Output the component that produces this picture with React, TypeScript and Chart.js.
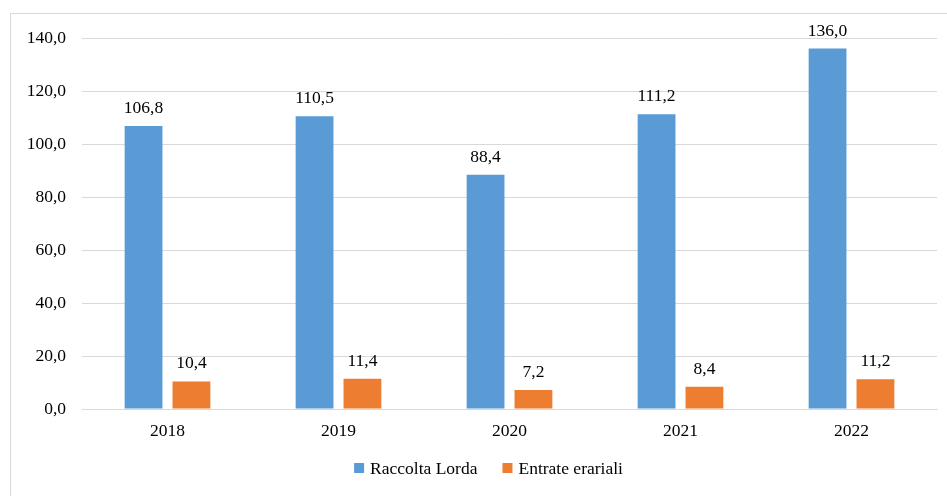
import React, { useEffect, useRef } from "react";
import { Chart, registerables } from "chart.js";

Chart.register(...registerables);

const categories = ["2018", "2019", "2020", "2021", "2022"];
const raccoltaLorda = [106.8, 110.5, 88.4, 111.2, 136.0];
const entrateErariali = [10.4, 11.4, 7.2, 8.4, 11.2];
const seriesNames = ["Raccolta Lorda", "Entrate erariali"];
const yTicks = [0, 20, 40, 60, 80, 100, 120, 140];

const FONT = "'Liberation Serif', 'Times New Roman', serif";
const FS = 17.5;
const fmt = (v: number) => v.toFixed(1).replace(".", ",");

const labelPlugin = {
  id: "barLabels",
  afterDatasetsDraw(chart: any) {
    const ctx = chart.ctx;
    ctx.save();
    ctx.font = `${FS}px ${FONT}`;
    ctx.fillStyle = "#000";
    ctx.textAlign = "center";
    ctx.textBaseline = "alphabetic";
    chart.data.datasets.forEach((ds: any, i: number) => {
      const meta = chart.getDatasetMeta(i);
      meta.data.forEach((bar: any, j: number) => {
        ctx.fillText(fmt(ds.data[j]), bar.x, bar.y - 13);
      });
    });
    ctx.restore();
  },
};

const legendPlugin = {
  id: "customLegend",
  afterDraw(chart: any) {
    const ctx = chart.ctx;
    ctx.save();
    ctx.font = `${FS}px ${FONT}`;
    const box = 10, gapBox = 6, gapItem = 25;
    const items = chart.data.datasets.map((ds: any) => ({
      label: ds.label,
      color: ds.backgroundColor,
      w: ctx.measureText(ds.label).width,
    }));
    const total = items.reduce((a: number, it: any) => a + box + gapBox + it.w, 0) + gapItem * (items.length - 1);
    const cx = (chart.chartArea.left + chart.chartArea.right) / 2 - 21;
    const cy = 468;
    let x = cx - total / 2;
    ctx.textBaseline = "middle";
    ctx.textAlign = "left";
    items.forEach((it: any) => {
      ctx.fillStyle = it.color;
      ctx.fillRect(x, cy - box / 2, box, box);
      x += box + gapBox;
      ctx.fillStyle = "#000";
      ctx.fillText(it.label, x, cy + 1);
      x += it.w + gapItem;
    });
    ctx.restore();
  },
};

export default function App() {
  const ref = useRef<HTMLCanvasElement>(null);
  useEffect(() => {
    const chart = new Chart(ref.current!, {
      type: "bar",
      data: {
        labels: categories,
        datasets: [
          { label: seriesNames[0], data: raccoltaLorda, backgroundColor: "#5B9BD5" },
          { label: seriesNames[1], data: entrateErariali, backgroundColor: "#ED7D31" },
        ],
      },
      options: {
        animation: false,
        responsive: false,
        categoryPercentage: 0.56,
        barPercentage: 0.79,
        layout: { padding: { top: 38, right: 10, left: 0, bottom: 0 } },
        scales: {
          x: {
            grid: { display: false },
            border: { display: true, color: "#D9D9D9" },
            ticks: { color: "#000", font: { family: FONT, size: FS }, padding: 4 },
            afterFit: (s: any) => { s.height = 87; },
          },
          y: {
            min: 0,
            max: 140,
            afterBuildTicks: (s: any) => { s.ticks = yTicks.map((v) => ({ value: v })); },
            grid: { color: "#D9D9D9", drawTicks: false },
            border: { display: false },
            ticks: {
              color: "#000",
              font: { family: FONT, size: FS },
              padding: 16,
              callback: (v: any) => fmt(Number(v)),
            },
            afterFit: (s: any) => { s.width = 82; },
          },
        },
        plugins: {
          legend: { display: false },
          tooltip: { enabled: false },
        },
      },
      plugins: [labelPlugin, legendPlugin],
    });
    return () => chart.destroy();
  }, []);
  return (
    <div style={{ position: "fixed", left: 0, top: 0, width: 947, height: 496, background: "#fff", overflow: "hidden" }}>
      <div style={{ position: "absolute", left: 10, top: 13, width: 940, height: 500, border: "1px solid #D9D9D9", boxSizing: "border-box" }} />
      <canvas ref={ref} width={947} height={496} style={{ position: "absolute", left: 0, top: 0 }} />
    </div>
  );
}
